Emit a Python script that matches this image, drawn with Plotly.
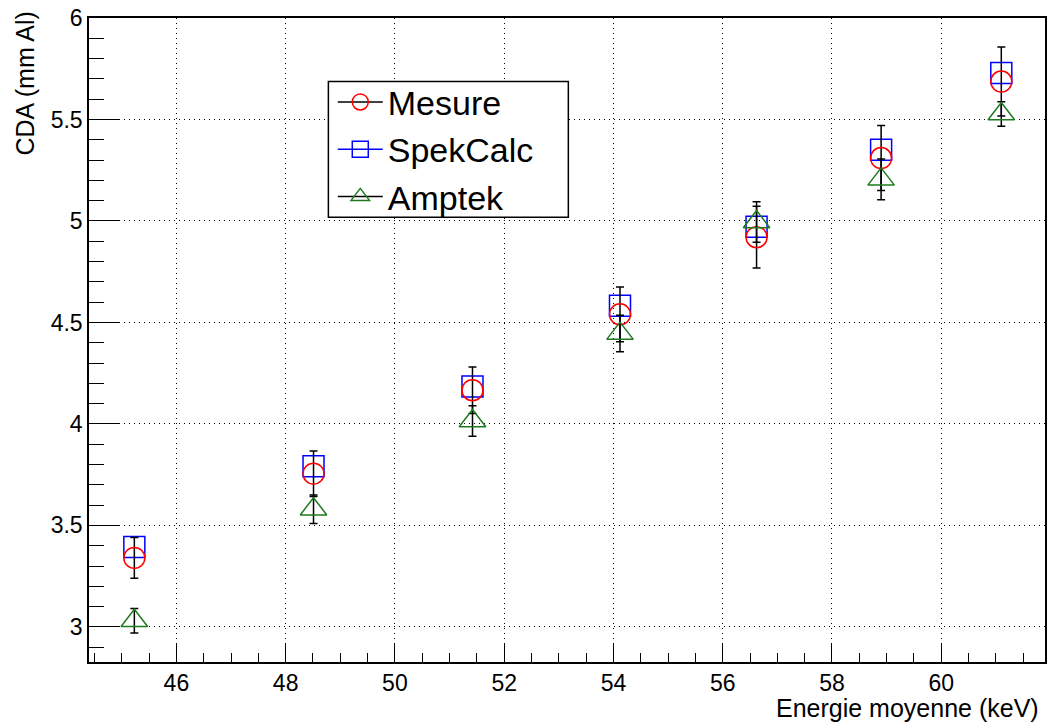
import plotly.graph_objects as go

# ---- data ----
energie = [45.23, 48.51, 51.42, 54.12, 56.62, 58.90, 61.10]
mesure = [3.34, 3.755, 4.166, 4.54, 4.92, 5.31, 5.687]
mesure_err = [0.10, 0.112, 0.115, 0.135, 0.152, 0.16, 0.17]
spekcalc = [3.393, 3.791, 4.185, 4.582, 4.972, 5.351, 5.729]
amptek = [3.03, 3.58, 4.014, 4.445, 4.995, 5.205, 5.527]
amptek_err = [0.06, 0.07, 0.075, 0.09, 0.10, 0.10, 0.06]

RED = "#ff0000"
BLUE = "#0000ff"
GREEN = "#1f7a1f"
FONT = "Liberation Sans, Arial, Helvetica, sans-serif"

fig = go.Figure()

# real data traces
fig.add_trace(go.Scatter(
    x=energie, y=spekcalc, mode="markers", showlegend=False,
    marker=dict(symbol="square-open", size=21, color=BLUE, line=dict(width=1.5, color=BLUE)),
))
fig.add_trace(go.Scatter(
    x=energie, y=mesure, mode="markers", showlegend=False,
    marker=dict(symbol="circle-open", size=21, color=RED, line=dict(width=1.5, color=RED)),
    error_y=dict(type="data", array=mesure_err, color="black", thickness=1.5, width=4),
))
fig.add_trace(go.Scatter(
    x=energie, y=amptek, mode="markers", showlegend=False,
    marker=dict(symbol="triangle-up-open", size=23, color=GREEN, line=dict(width=1.5, color=GREEN)),
    error_y=dict(type="data", array=amptek_err, color="black", thickness=1.5, width=4),
))

# legend-only entries (marker with error-bar style line)
fig.add_trace(go.Scatter(x=[None], y=[None], mode="lines+markers", name="Mesure", legendgroup="a",
                         line=dict(color="black", width=1.5),
                         marker=dict(symbol="circle-open", size=16, color=RED, line=dict(width=1.5, color=RED))))
fig.add_trace(go.Scatter(x=[None], y=[None], mode="lines+markers", name="SpekCalc", legendgroup="b",
                         line=dict(color=BLUE, width=1.5),
                         marker=dict(symbol="square-open", size=16, color=BLUE, line=dict(width=1.5, color=BLUE))))
fig.add_trace(go.Scatter(x=[None], y=[None], mode="lines+markers", name="Amptek", legendgroup="c",
                         line=dict(color="black", width=1.5),
                         marker=dict(symbol="triangle-up-open", size=16, color=GREEN, line=dict(width=1.5, color=GREEN))))

axis_common = dict(
    showline=True, linecolor="black", linewidth=1.5, mirror=True,
    ticks="inside", tickcolor="black", tickwidth=1.2,
    showgrid=True, gridcolor="black", gridwidth=1, griddash="1px,4px",
    zeroline=False,
    tickfont=dict(family=FONT, size=23, color="black"),
)

fig.update_layout(
    width=1052, height=726,
    margin=dict(l=89, r=5, t=18, b=64),
    paper_bgcolor="white", plot_bgcolor="white",
    font=dict(family=FONT, color="black"),
    xaxis=dict(range=[44.40, 61.90], dtick=2, tick0=0, ticklen=18,
               minor=dict(dtick=0.5, ticklen=9, ticks="inside", tickcolor="black", showgrid=False),
               **axis_common),
    yaxis=dict(range=[2.827, 6.0], dtick=0.5, tick0=0, ticklen=30,
               minor=dict(dtick=0.1, ticklen=15, ticks="inside", tickcolor="black", showgrid=False),
               **axis_common),
    legend=dict(x=0.255, y=0.914, xanchor="left", yanchor="top",
                bgcolor="rgba(0,0,0,0)", borderwidth=0,
                font=dict(family=FONT, size=34, color="black"),
                itemwidth=45, traceorder="grouped", tracegroupgap=0),
    shapes=[dict(type="rect", xref="paper", yref="paper",
                 x0=0.2504, x1=0.5014, y0=0.6907, y1=0.9015,
                 line=dict(color="black", width=1.5), fillcolor="white", layer="above")],
    annotations=[
        dict(text="CDA (mm Al)", xref="paper", yref="paper", x=-0.067, y=1.013,
             xanchor="center", yanchor="top", textangle=-90, showarrow=False,
             font=dict(family=FONT, size=25, color="black")),
        dict(text="Energie moyenne (keV)", xref="paper", yref="paper", x=0.9961, y=-0.072,
             xanchor="right", yanchor="middle", showarrow=False,
             font=dict(family=FONT, size=25, color="black")),
    ],
)

fig.write_html("out.html")
